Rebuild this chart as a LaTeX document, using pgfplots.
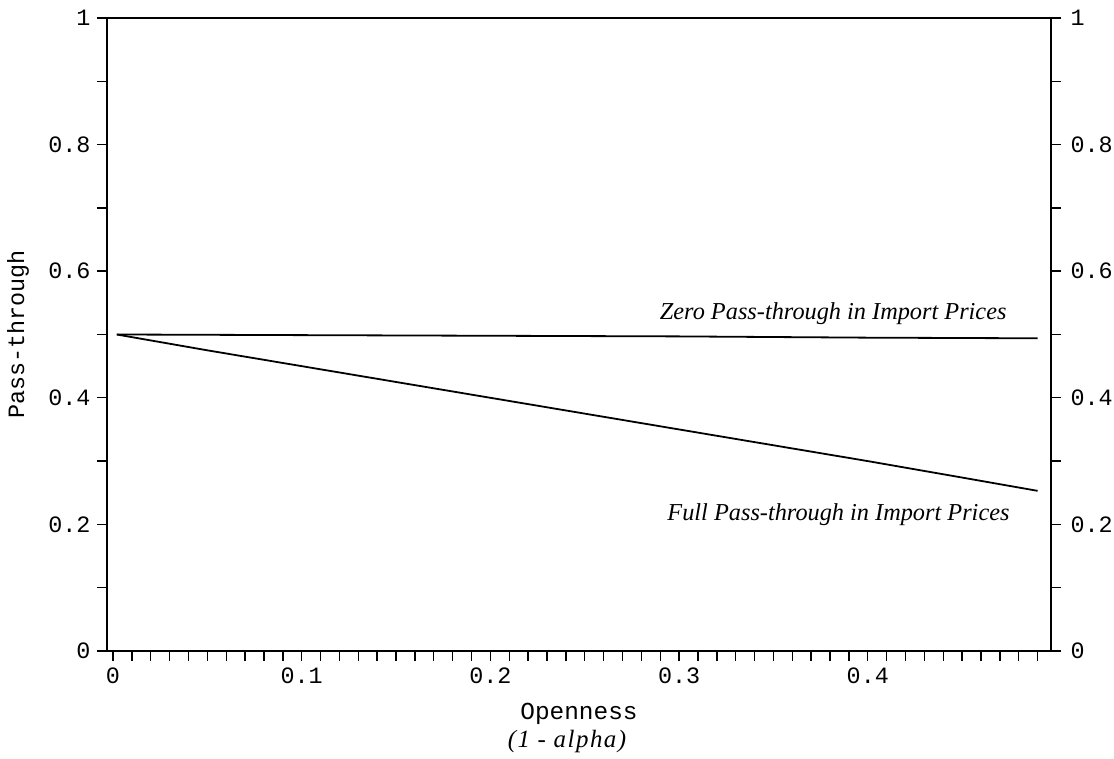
\documentclass[border=0pt]{standalone}
\usepackage{fontspec}
\setmainfont{Liberation Serif}
\setmonofont{Liberation Mono}
\usepackage{pgfplots}
\pgfplotsset{compat=1.18}
\newcommand{\monofont}{\fontsize{23.5}{23.5}\selectfont\ttfamily}
\newcommand{\notefont}{\fontsize{24.4}{24.4}\selectfont\itshape}
\begin{document}
\begin{tikzpicture}
\pgfplotsset{
  common/.style={
    scale only axis, width=944bp, height=633bp,
    xmin=-0.00318, xmax=0.4971, ymin=0, ymax=1,
    tick align=outside,
    major tick length=10bp, minor tick length=10bp,
    every tick/.style={black, line width=1.4bp},
    axis line style={line width=2bp},
    ticklabel style={font=\monofont},
    /pgf/number format/assume math mode=true,
    ytick={0,0.2,0.4,0.6,0.8,1},
    minor ytick={0.1,0.3,0.5,0.7,0.9},
  }
}
\begin{axis}[common,
  xtick={0,0.1,0.2,0.3,0.4},
  minor xtick={0.01,0.02,0.03,0.04,0.05,0.06,0.07,0.08,0.09,
    0.11,0.12,0.13,0.14,0.15,0.16,0.17,0.18,0.19,
    0.21,0.22,0.23,0.24,0.25,0.26,0.27,0.28,0.29,
    0.31,0.32,0.33,0.34,0.35,0.36,0.37,0.38,0.39,
    0.41,0.42,0.43,0.44,0.45,0.46,0.47,0.48,0.49},
  xtick pos=left, ytick pos=left,
  xticklabel style={yshift=-3bp},
  yticklabel style={xshift=-3bp},
  xlabel={Openness},
  xlabel style={font=\fontsize{24.5}{24.5}\selectfont\ttfamily,
    at={(rel axis cs:0.5,0)}, anchor=center, yshift=-63bp},
  ylabel={Pass-through},
  ylabel style={at={([xshift=-89bp]rel axis cs:0,0.5)}, anchor=center},
  every axis y label/.append style={font=\monofont},
]
% full pass-through in import prices
\addplot[black, line width=1.8bp] coordinates {
  (0.002,0.500) (0.05,0.475) (0.10,0.450) (0.15,0.425) (0.20,0.400)
  (0.25,0.375) (0.30,0.350) (0.35,0.325) (0.40,0.300) (0.45,0.274)
  (0.49,0.253)
};
% zero pass-through in import prices
\addplot[black, line width=1.8bp] coordinates {
  (0.002,0.500) (0.10,0.499) (0.20,0.498) (0.30,0.497) (0.40,0.495)
  (0.49,0.494)
};
\node[font=\notefont, anchor=base east] at (axis cs:0.4754,0.523) {Zero Pass-through in Import Prices};
\node[font=\notefont, anchor=base east] at (axis cs:0.477,0.2054) {Full Pass-through in Import Prices};
\coordinate (bl) at (rel axis cs:0,0);
\coordinate (bc) at (rel axis cs:0.5,0);
\coordinate (tr) at (rel axis cs:1,1);
\end{axis}
\begin{axis}[common,
  axis x line=none, axis y line*=right,
  ytick pos=right, yticklabel pos=right,
  yticklabel style={xshift=6bp},
]
\end{axis}
\node[font=\fontsize{25}{25}\selectfont\itshape\addfontfeature{LetterSpace=6}, anchor=center]
  at ([shift={(-12bp,-91bp)}]bc) {(1 - alpha)};
\pgfresetboundingbox
\path ([shift={(-107bp,-108bp)}]bl) rectangle ([shift={(63bp,18bp)}]tr);
\end{tikzpicture}
\end{document}
